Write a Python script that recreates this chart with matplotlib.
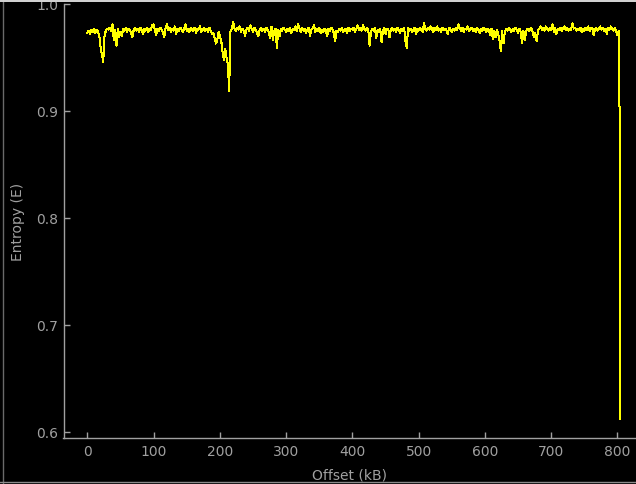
import numpy as np
import matplotlib
matplotlib.use("Agg")
import matplotlib.pyplot as plt
from matplotlib.patches import Rectangle
from matplotlib.lines import Line2D

# Entropy samples every 2 kB, starting at 0 kB
entropy = [
    0.973, 0.975, 0.972, 0.976, 0.974, 0.977, 0.973, 0.976, 0.974, 0.971,
    0.959, 0.953, 0.946, 0.971, 0.975, 0.977, 0.976, 0.978, 0.975, 0.981,
    0.966, 0.976, 0.961, 0.977, 0.969, 0.974, 0.970, 0.977, 0.975, 0.978,
    0.974, 0.977, 0.976, 0.973, 0.969, 0.976, 0.978, 0.975, 0.977, 0.974,
    0.978, 0.976, 0.972, 0.977, 0.975, 0.978, 0.974, 0.977, 0.976, 0.980,
    0.981, 0.975, 0.971, 0.977, 0.975, 0.978, 0.976, 0.974, 0.969, 0.977,
    0.981, 0.976, 0.978, 0.974, 0.977, 0.975, 0.979, 0.972, 0.977, 0.975,
    0.978, 0.976, 0.974, 0.977, 0.981, 0.975, 0.977, 0.974, 0.978, 0.976,
    0.975, 0.978, 0.973, 0.977, 0.976, 0.979, 0.974, 0.976, 0.978, 0.975,
    0.977, 0.974, 0.978, 0.975, 0.972, 0.973, 0.968, 0.963, 0.966, 0.974,
    0.970, 0.966, 0.955, 0.948, 0.958, 0.950, 0.944, 0.919, 0.974, 0.977,
    0.983, 0.977, 0.975, 0.978, 0.976, 0.979, 0.974, 0.977, 0.975, 0.970,
    0.976, 0.978, 0.975, 0.980, 0.977, 0.974, 0.978, 0.976, 0.973, 0.970,
    0.976, 0.978, 0.975, 0.977, 0.974, 0.978, 0.976, 0.973, 0.968, 0.979,
    0.966, 0.975, 0.977, 0.959, 0.976, 0.970, 0.977, 0.975, 0.978, 0.976,
    0.974, 0.977, 0.975, 0.978, 0.973, 0.977, 0.976, 0.979, 0.975, 0.981,
    0.977, 0.974, 0.978, 0.975, 0.977, 0.973, 0.976, 0.978, 0.970, 0.976,
    0.977, 0.980, 0.974, 0.977, 0.975, 0.978, 0.973, 0.976, 0.974, 0.977,
    0.975, 0.970, 0.977, 0.975, 0.978, 0.976, 0.973, 0.965, 0.975, 0.974,
    0.977, 0.975, 0.978, 0.974, 0.976, 0.977, 0.973, 0.978, 0.975, 0.977,
    0.976, 0.978, 0.974, 0.977, 0.980, 0.976, 0.978, 0.975, 0.980, 0.977,
    0.975, 0.978, 0.976, 0.961, 0.974, 0.977, 0.975, 0.978, 0.968, 0.976,
    0.974, 0.977, 0.964, 0.975, 0.978, 0.972, 0.976, 0.977, 0.969, 0.976,
    0.978, 0.975, 0.977, 0.974, 0.978, 0.976, 0.973, 0.977, 0.975, 0.978,
    0.965, 0.959, 0.978, 0.975, 0.977, 0.974, 0.976, 0.978, 0.972, 0.977,
    0.975, 0.978, 0.976, 0.974, 0.982, 0.977, 0.975, 0.978, 0.976, 0.979,
    0.977, 0.974, 0.978, 0.976, 0.979, 0.975, 0.977, 0.974, 0.978, 0.976,
    0.977, 0.975, 0.972, 0.978, 0.976, 0.974, 0.977, 0.975, 0.978, 0.976,
    0.981, 0.977, 0.975, 0.978, 0.974, 0.977, 0.976, 0.979, 0.975, 0.977,
    0.978, 0.975, 0.977, 0.974, 0.978, 0.976, 0.973, 0.977, 0.975, 0.978,
    0.976, 0.974, 0.977, 0.975, 0.971, 0.977, 0.967, 0.975, 0.969, 0.976,
    0.972, 0.966, 0.956, 0.975, 0.963, 0.974, 0.977, 0.975, 0.978, 0.976,
    0.974, 0.977, 0.975, 0.978, 0.976, 0.973, 0.977, 0.974, 0.963, 0.975,
    0.966, 0.974, 0.977, 0.975, 0.976, 0.978, 0.974, 0.969, 0.973, 0.965,
    0.975, 0.977, 0.979, 0.976, 0.978, 0.975, 0.979, 0.977, 0.975, 0.978,
    0.976, 0.981, 0.974, 0.978, 0.972, 0.977, 0.976, 0.978, 0.975, 0.977,
    0.979, 0.976, 0.978, 0.975, 0.977, 0.976, 0.982, 0.977, 0.978, 0.975,
    0.977, 0.976, 0.978, 0.974, 0.977, 0.975, 0.978, 0.976, 0.979, 0.975,
    0.977, 0.978, 0.971, 0.976, 0.978, 0.975, 0.977, 0.979, 0.976, 0.978,
    0.975, 0.977, 0.972, 0.978, 0.976, 0.979, 0.977, 0.975, 0.978, 0.974,
    0.971, 0.975,
]
step_kb = 2
# final drop at the end of the file
tail_offsets = [803.0, 803.0, 804.5, 804.5]
tail_entropy = [0.975, 0.904, 0.904, 0.612]

x_ticks = [0, 100, 200, 300, 400, 500, 600, 700, 800]
y_ticks = [0.6, 0.7, 0.8, 0.9, 1.0]

offsets = list(np.arange(len(entropy)) * step_kb) + tail_offsets
values = entropy + tail_entropy

W, H = 636, 485
fig = plt.figure(figsize=(W / 100, H / 100), dpi=100, facecolor="black")
ax = fig.add_axes([63.5 / W, 1 - 439 / H, 1 - 63.5 / W, (439 - 5) / H])
ax.set_facecolor("black")

ax.plot(offsets, values, color="#ffff00", lw=0.72, antialiased=False)

grey = "#a0a0a0"
ax.set_xlim(-36, 828)
ax.set_ylim(0.594, 1.0)
ax.set_xticks(x_ticks)
ax.set_yticks(y_ticks)
ax.set_yticklabels([f"{v:.1f}" for v in y_ticks])
for s in ["top", "right"]:
    ax.spines[s].set_visible(False)
for s in ["left", "bottom"]:
    ax.spines[s].set_color(grey)
    ax.spines[s].set_linewidth(1.0)
ax.tick_params(axis="both", direction="in", length=4, width=1, colors=grey,
               labelsize=10, pad=4)
ax.set_xlabel("Offset (kB)", color=grey, fontsize=10, labelpad=7)
ax.set_ylabel("Entropy (E)", color=grey, fontsize=10, labelpad=8)

# window frame
fig.patches.append(Rectangle((0, 1 - 3 / H), 1, 3 / H, transform=fig.transFigure,
                             facecolor="#d0d0d0", edgecolor="none", zorder=5))
fig.lines.append(Line2D([2.5 / W, 2.5 / W], [0, 1], transform=fig.transFigure,
                        color="#6a6a6a", lw=1))
fig.lines.append(Line2D([0, 1], [2.5 / H, 2.5 / H], transform=fig.transFigure,
                        color="#8a8a8a", lw=1))

fig.savefig("out.png", dpi=100, facecolor="black")
